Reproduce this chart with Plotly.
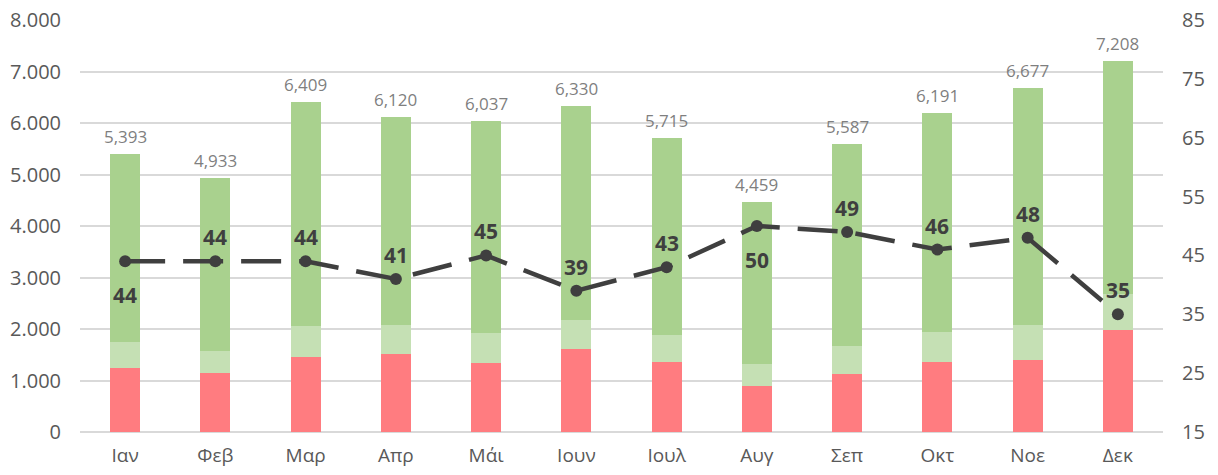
import plotly.graph_objects as go

# Monthly values
months = ['Ιαν', 'Φεβ', 'Μαρ', 'Απρ', 'Μάι', 'Ιουν', 'Ιουλ', 'Αυγ', 'Σεπ', 'Οκτ', 'Νοε', 'Δεκ']
red_part = [1242, 1138, 1465, 1522, 1344, 1618, 1369, 889, 1127, 1357, 1401, 1983]
light_green_part = [505, 442, 595, 557, 570, 564, 507, 430, 537, 582, 672, 691]
totals = [5393, 4933, 6409, 6120, 6037, 6330, 5715, 4459, 5587, 6191, 6677, 7208]
line_values = [44, 44, 44, 41, 45, 39, 43, 50, 49, 46, 48, 35]
line_label_below = [True, False, False, False, False, False, False, True, False, False, False, False]

green_part = [t - r - l for t, r, l in zip(totals, red_part, light_green_part)]

COLORS = {
    'red': '#FF7C80',
    'light_green': '#C5E0B4',
    'green': '#A9D18E',
    'line': '#3F3F3F',
    'grid': '#D9D9D9',
    'tick': '#595959',
    'total': '#7F7F7F',
}
FONT = 'Open Sans, Segoe UI, sans-serif'

fig = go.Figure()

fig.add_trace(go.Bar(x=months, y=red_part, marker=dict(color=COLORS['red'], line_width=0)))
fig.add_trace(go.Bar(x=months, y=light_green_part, marker=dict(color=COLORS['light_green'], line_width=0)))
fig.add_trace(go.Bar(x=months, y=green_part, marker=dict(color=COLORS['green'], line_width=0)))

fig.add_trace(go.Scatter(
    x=months,
    y=line_values,
    yaxis='y2',
    mode='lines+markers',
    line=dict(color=COLORS['line'], width=4.5, dash='40px,18px'),
    marker=dict(color=COLORS['line'], size=12),
))

# total labels above bars
for m, t in zip(months, totals):
    fig.add_annotation(
        x=m, y=t, text=f"{t:,}", showarrow=False,
        yanchor='bottom', yshift=4,
        font=dict(family=FONT, size=17, color=COLORS['total']),
    )

# bold labels for the line
for m, v, below in zip(months, line_values, line_label_below):
    fig.add_annotation(
        x=m, y=v, yref='y2', text=f"<b>{v}</b>", showarrow=False,
        yanchor='top' if below else 'bottom',
        yshift=-18 if below else 8,
        font=dict(family=FONT, size=21, color=COLORS['line']),
    )

# page body has an 8px margin, so the figure is sized a little smaller
fig.update_layout(
    barmode='stack',
    bargap=0.667,
    showlegend=False,
    hovermode=False,
    width=1210,
    height=467,
    margin=dict(l=72, r=55, t=12, b=43, autoexpand=False),
    paper_bgcolor='white',
    plot_bgcolor='white',
    separators=',.',
    font=dict(family=FONT, size=20, color=COLORS['tick']),
    xaxis=dict(
        range=[-0.5, len(months) - 0.5],
        showgrid=False, showline=False, zeroline=False, automargin=False,
        ticks='', ticklabelstandoff=10,
        tickfont=dict(size=19, color=COLORS['tick']),
    ),
    yaxis=dict(
        range=[0, 8000], tick0=0, dtick=1000,
        tickformat=',.0f', automargin=False, ticklabeloverflow='allow',
        showgrid=True, gridcolor=COLORS['grid'], gridwidth=1.5,
        zeroline=True, zerolinecolor=COLORS['grid'], zerolinewidth=1.5,
        showline=False, ticks='', ticklabelstandoff=18,
        tickfont=dict(size=20, color=COLORS['tick']),
    ),
    yaxis2=dict(
        range=[15, 85], tick0=15, dtick=10,
        overlaying='y', side='right', automargin=False, ticklabeloverflow='allow',
        showgrid=False, zeroline=False, showline=False,
        ticks='', ticklabelstandoff=18,
        tickfont=dict(size=20, color=COLORS['tick']),
    ),
)

fig.write_html("out.html")
